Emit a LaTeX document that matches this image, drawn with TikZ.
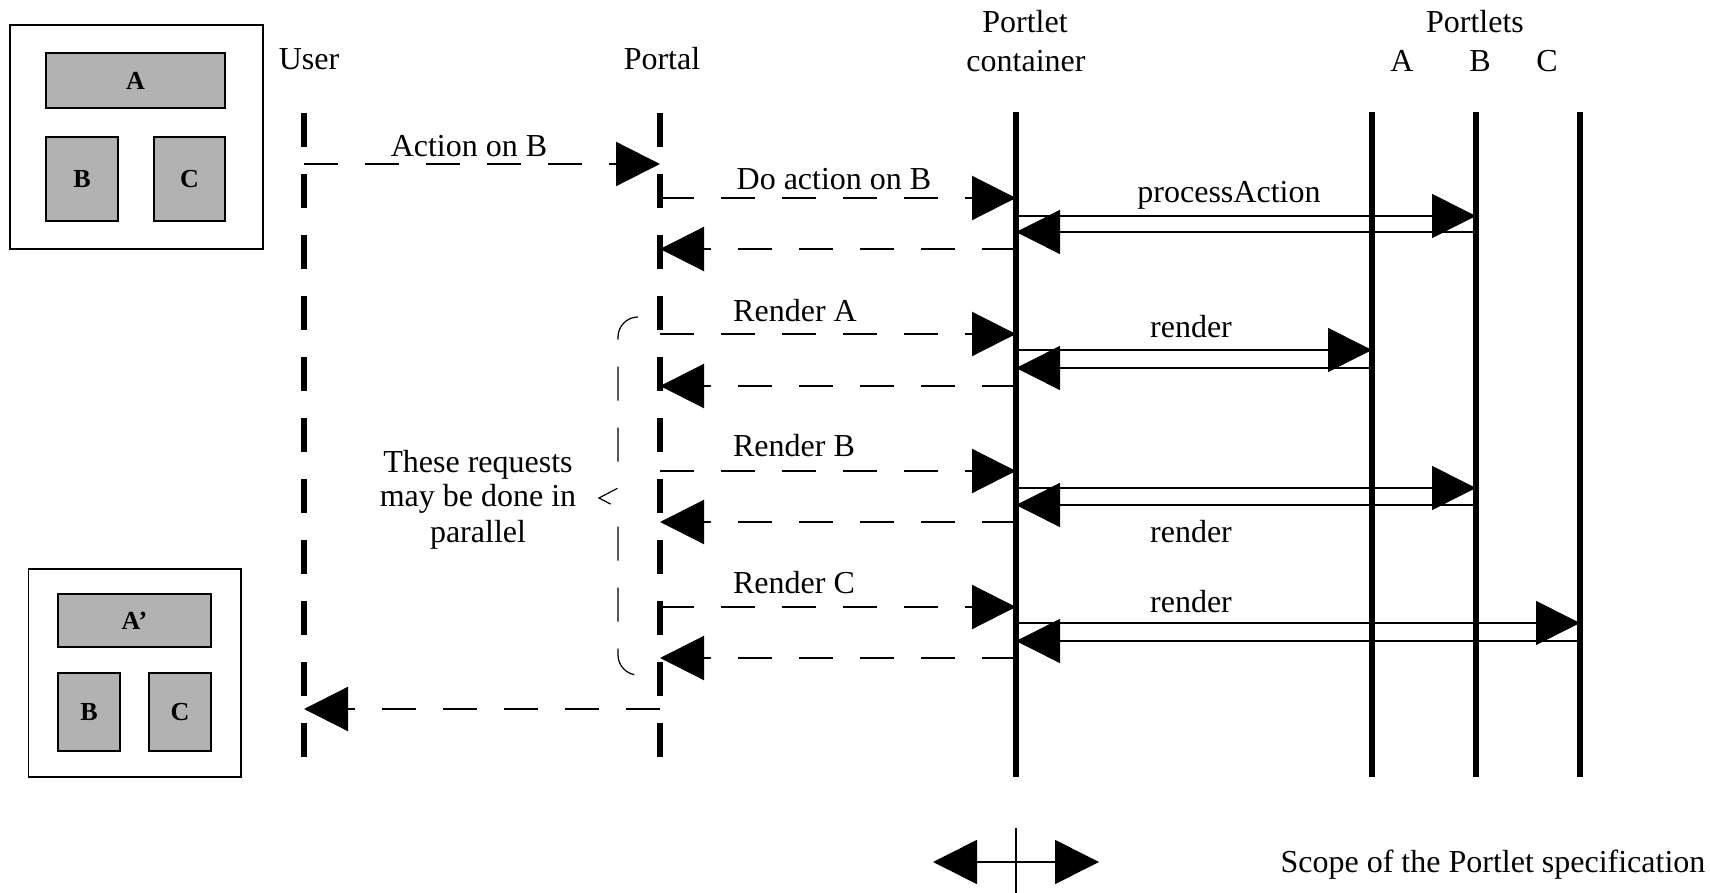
\documentclass[tikz,border=0pt]{standalone}
\usepackage{fontspec}
\setmainfont{Liberation Serif}
\usetikzlibrary{arrows.meta}
\begin{document}
\begin{tikzpicture}[x=0.5pt,y=-0.5pt,
    font=\fontsize{16}{19}\selectfont,
    head/.style={-{Triangle[length=22pt,width=22pt]}},
    msg/.style={head,line width=1.1pt,dash pattern=on 17pt off 13.5pt},
    call/.style={head,line width=0.8pt},
    life/.style={line width=2.7pt},
    dashlife/.style={life,dash pattern=on 17pt off 13.5pt},
    brace/.style={line width=0.6pt,dash pattern=on 17pt off 13.5pt},
    frame/.style={draw,line width=0.7pt,inner sep=0pt},
    part/.style={frame,fill=black!30,font=\fontsize{13}{15}\selectfont\bfseries}]
  \useasboundingbox (0,0) rectangle (1710,893);

  \node[frame,minimum width=126.5pt,minimum height=112pt] (page1) at (136.5,137) {};
  \node[part,minimum width=89.5pt,minimum height=27.5pt] (a1) at (135.5,80.5) {A};
  \node[part,minimum width=36pt,minimum height=42pt] (b1) at (82,179) {B};
  \node[part,minimum width=35.5pt,minimum height=42pt] (c1) at (189.5,179) {C};
  \node[frame,minimum width=106.25pt,minimum height=104pt] (page2) at (134.75,673) {};
  \node[part,minimum width=76.5pt,minimum height=26.5pt] (a2) at (134.5,620.5) {A’};
  \node[part,minimum width=31pt,minimum height=39pt] (b2) at (89,712) {B};
  \node[part,minimum width=31pt,minimum height=39pt] (c2) at (180,712) {C};

  \node[anchor=base] (userlabel) at (309,70) {User};
  \node[anchor=base] (portallabel) at (662,70) {Portal};
  \node[anchor=base] (pclabel1) at (1025,33) {Portlet};
  \node[anchor=base] (pclabel2) at (1026,72) {container};
  \node[anchor=base] (plabel) at (1475,33) {Portlets};
  \node[anchor=base] (alabel) at (1402,72) {A};
  \node[anchor=base] (blabel) at (1480,72) {B};
  \node[anchor=base] (clabel) at (1547,72) {C};

  \coordinate (user) at (304,113);
  \coordinate (user end) at (304,760);
  \coordinate (portal) at (660,113);
  \coordinate (portal end) at (660,760);
  \coordinate (pc) at (1016,112);
  \coordinate (pc end) at (1016,777);
  \coordinate (pa) at (1372,112);
  \coordinate (pa end) at (1372,777);
  \coordinate (pb) at (1476,112);
  \coordinate (pb end) at (1476,777);
  \coordinate (pcc) at (1580,112);
  \coordinate (pcc end) at (1580,777);

  \draw[dashlife] (user) -- (user end);
  \draw[dashlife] (portal) -- (portal end);
  \draw[life] (pc) -- (pc end);
  \draw[life] (pa) -- (pa end);
  \draw[life] (pb) -- (pb end);
  \draw[life] (pcc) -- (pcc end);

  \coordinate (act) at (0,164);
  \coordinate (doact) at (0,198);
  \coordinate (proc) at (0,216);
  \coordinate (procret) at (0,232);
  \coordinate (actret) at (0,249);
  \coordinate (rena) at (0,334);
  \coordinate (calla) at (0,350);
  \coordinate (calla ret) at (0,368);
  \coordinate (rena ret) at (0,386);
  \coordinate (renb) at (0,471);
  \coordinate (callb) at (0,488);
  \coordinate (callb ret) at (0,505);
  \coordinate (renb ret) at (0,522);
  \coordinate (renc) at (0,607);
  \coordinate (callc) at (0,623);
  \coordinate (callc ret) at (0,641);
  \coordinate (renc ret) at (0,658);
  \coordinate (page) at (0,709);

  \draw[msg] (user |- act) -- (portal |- act);
  \draw[msg] (portal |- doact) -- (pc |- doact);
  \draw[call] (pc |- proc) -- (pb |- proc);
  \draw[call] (pb |- procret) -- (pc |- procret);
  \draw[msg] (pc |- actret) -- (portal |- actret);
  \draw[msg] (portal |- rena) -- (pc |- rena);
  \draw[call] (pc |- calla) -- (pa |- calla);
  \draw[call] (pa |- calla ret) -- (pc |- calla ret);
  \draw[msg] (pc |- rena ret) -- (portal |- rena ret);
  \draw[msg] (portal |- renb) -- (pc |- renb);
  \draw[call] (pc |- callb) -- (pb |- callb);
  \draw[call] (pb |- callb ret) -- (pc |- callb ret);
  \draw[msg] (pc |- renb ret) -- (portal |- renb ret);
  \draw[msg] (portal |- renc) -- (pc |- renc);
  \draw[call] (pc |- callc) -- (pcc |- callc);
  \draw[call] (pcc |- callc ret) -- (pc |- callc ret);
  \draw[msg] (pc |- renc ret) -- (portal |- renc ret);
  \draw[msg] (portal |- page) -- (user |- page);

  \node[anchor=base] (actlabel) at (469,157) {Action on B};
  \node[anchor=base] (doactlabel) at (834,190) {Do action on B};
  \node[anchor=base] (proclabel) at (1229,203) {processAction};
  \node[anchor=base] (renalabel) at (795,322) {Render A};
  \node[anchor=base] (callalabel) at (1191,338) {render};
  \node[anchor=base] (renblabel) at (794,457) {Render B};
  \node[anchor=base] (callblabel) at (1191,543) {render};
  \node[anchor=base] (renclabel) at (794,593) {Render C};
  \node[anchor=base] (callclabel) at (1191,612) {render};

  \draw[brace] (638,317) .. controls (627,317) and (618,326) .. (618,337)
    -- (618,488) -- (599,498) -- (618,508) -- (618,655)
    .. controls (618,666) and (627,675) .. (638,675);
  \node[anchor=base,align=center,font=\fontsize{16}{17.5}\selectfont] (note) at (478,542) {These requests\\may be done in\\parallel};

  \coordinate (scope left) at (933,862);
  \coordinate (scope right) at (1099,862);
  \coordinate (scope top) at (1016,828);
  \coordinate (scope bottom) at (1016,893);
  \draw[line width=0.8pt,{Triangle[length=22pt,width=22pt]}-{Triangle[length=22pt,width=22pt]}] (scope left) -- (scope right);
  \draw[line width=0.6pt] (scope top) -- (scope bottom);
  \node[anchor=base] (scopelabel) at (1493,872) {Scope of the Portlet specification};
\end{tikzpicture}
\end{document}
